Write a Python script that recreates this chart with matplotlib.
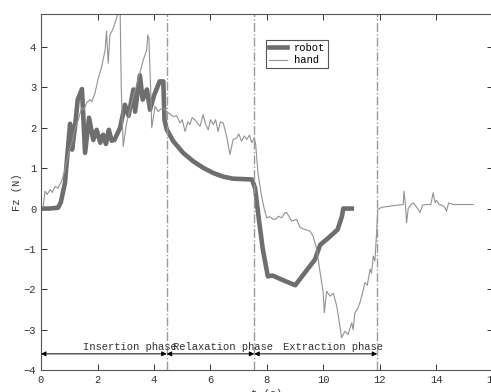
import matplotlib
matplotlib.use("Agg")
import matplotlib.pyplot as plt

plt.rcParams['font.family'] = ['Liberation Mono', 'DejaVu Sans Mono']

robot_t = [0, 0.3, 0.6, 0.7, 0.85, 0.97, 1.03, 1.1, 1.2, 1.3, 1.45, 1.56, 1.7, 1.85,
           1.97, 2.1, 2.2, 2.3, 2.4, 2.5, 2.6, 2.8, 2.97, 3.1, 3.27, 3.33, 3.5, 3.6,
           3.75, 3.86, 4.0, 4.2, 4.33, 4.37, 4.45, 4.68, 5.03, 5.39, 5.74, 6.1, 6.45,
           6.8, 7.15, 7.47, 7.58, 7.7, 7.85, 8.03, 8.2, 8.52, 9.0, 9.35, 9.7, 9.88,
           10.17, 10.5, 10.65, 10.7, 11.0]
robot_v = [0, 0, 0.02, 0.15, 0.64, 1.63, 2.1, 1.46, 2.0, 2.7, 2.96, 1.38, 2.25, 1.7,
           1.95, 1.63, 1.83, 1.6, 1.95, 1.68, 1.7, 2.0, 2.57, 2.3, 2.95, 2.4, 3.3, 2.7,
           2.95, 2.45, 2.8, 3.15, 3.15, 2.2, 1.96, 1.67, 1.38, 1.17, 1.01, 0.88, 0.79,
           0.74, 0.73, 0.72, 0.5, -0.2, -1.0, -1.68, -1.66, -1.76, -1.9, -1.58, -1.26, -0.9,
           -0.73, -0.52, -0.2, 0.0, 0.0]

hand_t = [0, 0.08, 0.14, 0.22, 0.32, 0.4, 0.5, 0.6, 0.73, 0.85, 0.97, 1.09, 1.2, 1.32,
          1.44, 1.52, 1.62, 1.73, 1.8, 1.91, 2.02, 2.15, 2.27, 2.32, 2.38, 2.44, 2.55,
          2.62, 2.73, 2.8, 2.84, 2.91, 3.03, 3.15, 3.27, 3.4, 3.5, 3.62, 3.74, 3.78,
          3.82, 3.88, 3.92, 4.04, 4.15, 4.21, 4.33, 4.45, 4.55, 4.68, 4.8, 4.92, 5.0,
          5.1, 5.2, 5.27, 5.35, 5.45, 5.55, 5.63, 5.74, 5.82, 5.92, 6.0, 6.1, 6.18,
          6.27, 6.35, 6.45, 6.57, 6.69, 6.8, 6.93, 7.0, 7.1, 7.2, 7.28, 7.38, 7.46,
          7.55, 7.6, 7.68, 7.81, 7.9, 7.99, 8.1, 8.22, 8.34, 8.4, 8.52, 8.64, 8.7,
          8.87, 9.05, 9.17, 9.35, 9.52, 9.63, 9.76, 9.88, 9.99, 10.03, 10.11, 10.23,
          10.35, 10.47, 10.58, 10.64, 10.76, 10.87, 11.0, 11.05, 11.11, 11.2, 11.29,
          11.38, 11.47, 11.55, 11.65, 11.7, 11.76, 11.82, 11.88, 11.92, 12.06, 12.35,
          12.82, 12.85, 12.9, 12.94, 13.0, 13.1, 13.18, 13.3, 13.42, 13.5, 13.6, 13.8,
          13.88, 13.95, 14.0, 14.1, 14.2, 14.3, 14.35, 14.43, 14.6, 15.3]
hand_v = [0.0, 0.05, 0.43, 0.35, 0.47, 0.4, 0.55, 0.5, 0.68, 0.97, 1.38, 1.63, 1.95, 2.2,
          2.5, 2.45, 2.62, 2.7, 2.65, 2.86, 3.2, 3.52, 3.93, 4.39, 3.6, 4.3, 4.45,
          4.6, 4.85, 5.0, 3.0, 1.54, 2.12, 2.45, 2.78, 3.1, 3.36, 3.68, 3.93, 4.3,
          4.2, 3.0, 2.0, 2.53, 2.4, 2.45, 2.49, 2.4, 2.35, 2.28, 2.3, 2.12, 2.2,
          1.91, 2.15, 2.08, 2.25, 2.2, 2.1, 2.04, 2.33, 2.1, 1.95, 2.2, 2.08, 2.2,
          1.91, 2.15, 2.12, 1.79, 1.34, 1.71, 1.75, 1.85, 1.67, 1.8, 1.71, 1.82, 1.63,
          1.75, 1.58, 0.88, 0.3, 0.0, -0.23, -0.2, -0.27, -0.25, -0.19, -0.23, -0.1, -0.1,
          -0.31, -0.27, -0.47, -0.52, -0.56, -0.68, -1.01, -1.58, -2.08, -2.58, -2.05, -2.17,
          -2.1, -2.42, -2.91, -3.2, -3.04, -3.12, -2.83, -3.0, -2.58, -2.5, -2.33,
          -2.1, -1.83, -1.9, -1.5, -1.6, -1.18, -1.3, -0.6, -0.02, 0.03, 0.06,
          0.1, 0.43, 0.1, -0.35, 0.0, 0.1, 0.14, 0.03, -0.1, 0.08, 0.1, 0.1,
          0.39, 0.15, 0.2, 0.1, 0.08, 0.03, -0.07, 0.14, 0.1, 0.1]

phase_bounds = [0, 4.45, 7.55, 11.9]
phase_labels = ['Insertion phase', 'Relaxation phase', 'Extraction phase']
phase_label_x = [1.48, 4.67, 8.55]
x_ticks = [0, 2, 4, 6, 8, 10, 12, 14, 16]
y_ticks = [-4, -3, -2, -1, 0, 1, 2, 3, 4]

fig = plt.figure(figsize=(4.91, 3.92), dpi=100)
ax = fig.add_axes([41/491, 22/392, 452/491, 356/392])

ax.plot(robot_t, robot_v, color='#6e6e6e', lw=3.3, label='robot', solid_joinstyle='round')
ax.plot(hand_t, hand_v, color='#929292', lw=0.8, label='hand')

for xb in phase_bounds[1:]:
    ax.axvline(xb, color='#9a9a9a', lw=1.0, ls='-.')

arrow_y = -3.6
for i in range(3):
    ax.annotate('', xy=(phase_bounds[i + 1], arrow_y), xytext=(phase_bounds[i], arrow_y),
                arrowprops=dict(arrowstyle='<|-|>', color='black', lw=0.7,
                                mutation_scale=7, shrinkA=0, shrinkB=0))
    ax.text(phase_label_x[i], -3.44, phase_labels[i], fontsize=7.6, color='#333333',
            ha='left', va='center')

ax.set_xlim(0, 16)
ax.set_ylim(-4, 4.82)
ax.set_xticks(x_ticks)
ax.set_yticks(y_ticks)
ax.tick_params(direction='in', top=True, right=True, labelsize=7.6,
               colors='#333333', length=4, width=0.7)
for s in ax.spines.values():
    s.set_color('#555555')
    s.set_linewidth(0.8)

ax.set_xlabel('t (s)', fontsize=7.6, color='#333333', labelpad=3)
ax.set_ylabel('Fz (N)', fontsize=7.6, color='#333333', labelpad=1)

leg = ax.legend(loc='upper left', bbox_to_anchor=(0.498, 0.927), borderaxespad=0,
                fontsize=7.6, fancybox=False, framealpha=1, edgecolor='#555555',
                handlelength=1.7, borderpad=0.3, labelspacing=0.2, handletextpad=0.6)
leg.get_frame().set_linewidth(0.8)

fig.savefig('out.png', dpi=100)
